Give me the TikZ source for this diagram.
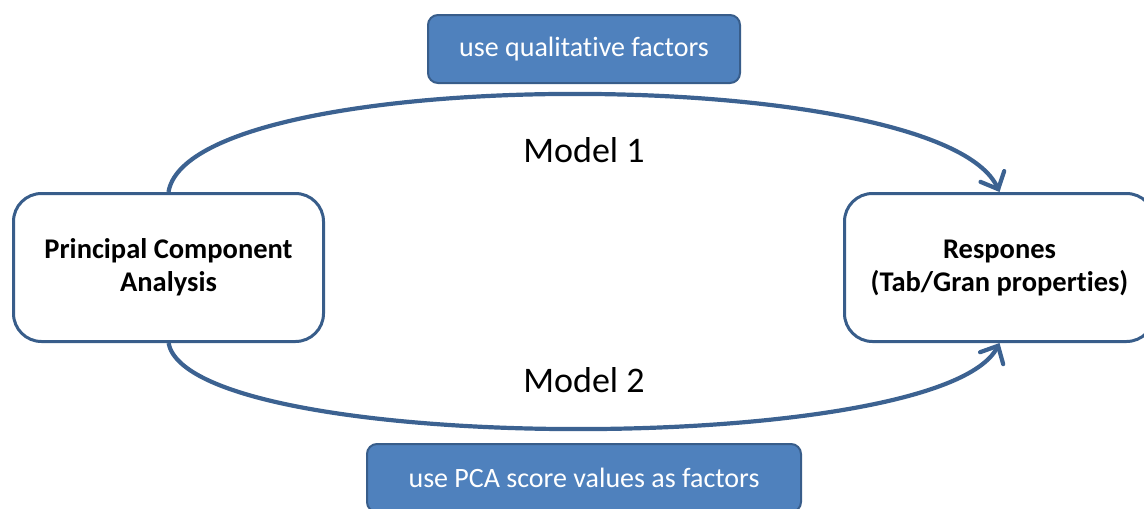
\documentclass[tikz,border=0pt]{standalone}
\usepackage{fontspec}
\setmainfont{Carlito}[Ligatures=NoCommon]
\usetikzlibrary{arrows.meta}

\definecolor{boxline}{RGB}{56,93,138}
\definecolor{boxfill}{RGB}{79,129,189}
\definecolor{arcline}{RGB}{60,98,145}

\begin{document}
\begin{tikzpicture}[x=1pt,y=1pt,yscale=-1,
  stage/.style={draw=boxline, line width=3pt, rounded corners=28pt, fill=white,
    minimum width=310pt, minimum height=148pt, align=center,
    font=\fontsize{28.5}{33}\selectfont\bfseries},
  factor/.style={draw=boxline, line width=2pt, rounded corners=10pt, fill=boxfill,
    text=white, minimum height=68pt, font=\fontsize{28}{30}\selectfont},
  model/.style={font=\fontsize{36}{42}\selectfont},
  flow/.style={draw=arcline, line width=4.2pt,
    -{Straight Barb[length=14pt,width=26pt,line cap=round]}}]
\useasboundingbox (0,0) rectangle (1144,509);

% the two end boxes
\node[stage] (pca) at (168.5,267.5) {Principal Component\\Analysis};
\node[stage] (resp) at (999.5,267.5) {Respones\\(Tab/Gran properties)};

% the two models
\draw[flow] (pca.north) .. controls (190,62) and (940,62) .. (resp.north);
\draw[flow] (pca.south) .. controls (190,456) and (940,458) .. (resp.south);

% Text Node
\node[model] (m1) at (584,150) {Model 1};
% Text Node
\node[model] (m2) at (584,380) {Model 2};

% factor boxes
\node[factor, minimum width=312pt] (qual) at (584,49) {use qualitative factors};
\node[factor, minimum width=434pt] (score) at (584,478) {use PCA score values as factors};

\end{tikzpicture}
\end{document}
